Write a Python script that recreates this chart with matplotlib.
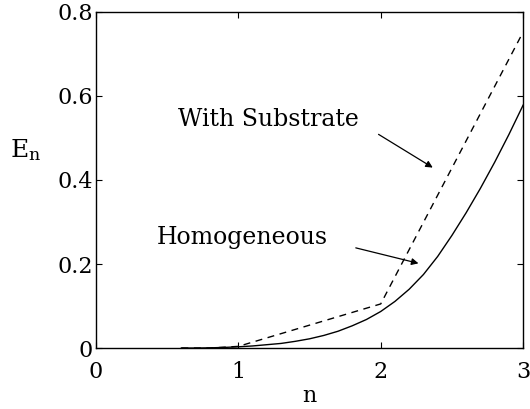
import numpy as np
import matplotlib.pyplot as plt

plt.rcParams['font.family'] = 'DejaVu Serif'
plt.rcParams['mathtext.fontset'] = 'dejavuserif'

# Energy curves
n_homog = [0.6, 0.7, 0.8, 0.9, 1.0, 1.1, 1.2, 1.3, 1.4, 1.5, 1.6, 1.7, 1.8,
           1.9, 2.0, 2.1, 2.2, 2.3, 2.4, 2.5, 2.6, 2.7, 2.8, 2.9, 3.0]
E_homog = [0.0, 0.0, 0.0005, 0.0015, 0.003, 0.005, 0.008, 0.011, 0.016,
           0.022, 0.030, 0.040, 0.053, 0.068, 0.087, 0.111, 0.140, 0.175,
           0.218, 0.268, 0.322, 0.380, 0.442, 0.508, 0.578]

n_subst = [0.6, 0.8, 1.0, 2.0, 3.0]
E_subst = [0.0, 0.0, 0.004, 0.105, 0.752]

fig = plt.figure(figsize=(5.3, 4.09), dpi=100)
ax = fig.add_axes([0.181, 0.149, 0.806, 0.822])

ax.plot(n_homog, E_homog, 'k-', lw=1.0)
ax.plot(n_subst, E_subst, 'k--', lw=1.0, dashes=(5, 4))

arrow = dict(arrowstyle='-|>', color='k', lw=0.9, mutation_scale=10)
ax.annotate('', xy=(2.382, 0.426), xytext=(1.968, 0.512), arrowprops=arrow)
ax.text(0.576, 0.543, 'With Substrate', fontsize=17, ha='left', va='center')
ax.annotate('', xy=(2.284, 0.200), xytext=(1.806, 0.240), arrowprops=arrow)
ax.text(0.429, 0.264, 'Homogeneous', fontsize=17, ha='left', va='center')

ax.set_xlim(0, 3)
ax.set_ylim(0, 0.8)
ax.set_xticks([0, 1, 2, 3])
ax.set_yticks([0, 0.2, 0.4, 0.6, 0.8])
ax.set_yticklabels(['0', '0.2', '0.4', '0.6', '0.8'])
ax.tick_params(direction='in', length=4, width=0.8, top=True, right=True,
               labelsize=16)
ax.tick_params(axis='x', pad=9)
ax.tick_params(axis='y', pad=2)
for s in ax.spines.values():
    s.set_linewidth(1.0)

ax.set_xlabel('n', fontsize=16, labelpad=2)
ax.set_ylabel(r'E$_{\mathregular{n}}$', fontsize=18, rotation=0)
ax.yaxis.set_label_coords(-0.165, 0.55)

fig.savefig('out.png', dpi=100)
